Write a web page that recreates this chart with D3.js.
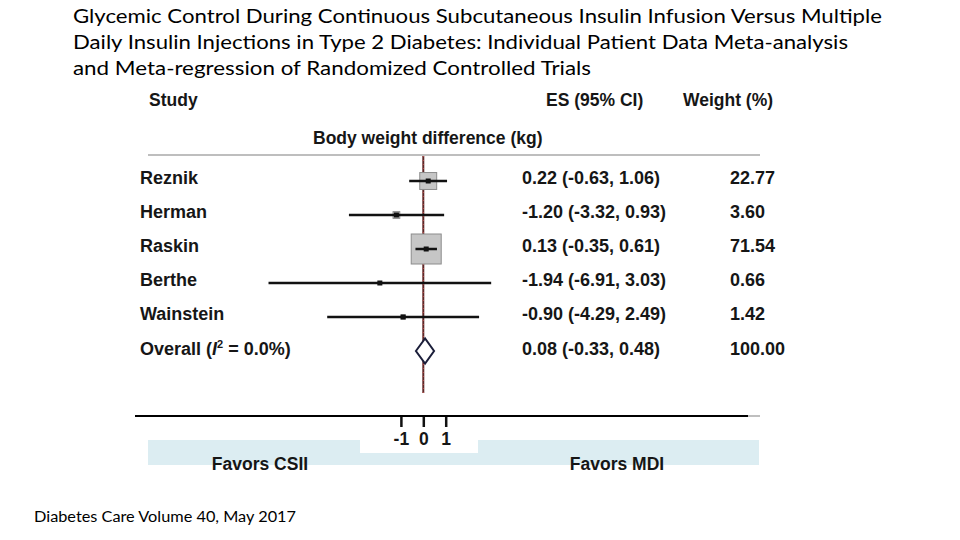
<!DOCTYPE html>
<html>
<head>
<meta charset="utf-8">
<script src="https://cdn.jsdelivr.net/npm/d3@7"></script>
<style>
  body { margin: 0; background: #fff; }
  svg { display: block; }
  .lab { font-family: "Liberation Sans", Arial, sans-serif; font-weight: bold; fill: #161616; }
  .ttl { font-family: Lato, "Open Sans", sans-serif; fill: #000; }
</style>
</head>
<body>
<svg id="chart" width="960" height="540"></svg>
<script>
// forest plot data
const titleLines = [
    "Glycemic Control During  Continuous Subcutaneous Insulin  Infusion Versus Multiple",
    "Daily Insulin Injections in Type 2  Diabetes: Individual Patient Data  Meta-analysis",
    "and Meta-regression  of Randomized Controlled Trials"
];
const studies = ["Reznik", "Herman", "Raskin", "Berthe", "Wainstein"];
const estimates = [0.22, -1.20, 0.13, -1.94, -0.90];
const lowerCI = [-0.63, -3.32, -0.35, -6.91, -4.29];
const upperCI = [1.06, 0.93, 0.61, 3.03, 2.49];
const weights = ["22.77", "3.60", "71.54", "0.66", "1.42"];
const overall = { label: "Overall", es: 0.08, lo: -0.33, hi: 0.48, weight: "100.00" };
const xTicks = [-1, 0, 1];
const footer = "Diabetes Care Volume 40, May 2017";

// plain hyphen minus like the original figure
const locale = d3.formatLocale({ decimal: ".", thousands: ",", grouping: [3], currency: ["", ""], minus: "-" });
const fmt = locale.format(".2f");
const ciText = (e, l, h) => `${fmt(e)} (${fmt(l)}, ${fmt(h)})`;

const svg = d3.select("#chart");

// title
const titleLen = [809, 775, 518];
svg.append("g").selectAll("text")
    .data(titleLines)
    .join("text")
    .attr("class", "ttl")
    .attr("x", 73)
    .attr("y", (d, i) => 23 + i * 26)
    .attr("font-size", 19.5)
    .attr("textLength", (d, i) => titleLen[i])
    .attr("lengthAdjust", "spacingAndGlyphs")
    .text(d => d);

const x = d3.scaleLinear()
    .domain([-7, 4])
    .range([423.3 - 7 * 22.4, 423.3 + 4 * 22.4]);

const rows = [...studies, overall.label];
const y = d3.scalePoint()
    .domain(rows)
    .range([181, 351]);

const boxSize = d3.scaleSqrt()
    .domain([0, 71.54])
    .range([0, 30]);

// header
svg.append("text").attr("class", "lab").attr("x", 149).attr("y", 106)
    .attr("font-size", 17.5).text("Study");
svg.append("text").attr("class", "lab").attr("x", 546).attr("y", 106)
    .attr("font-size", 17.5).text("ES (95% CI)");
svg.append("text").attr("class", "lab").attr("x", 683).attr("y", 106)
    .attr("font-size", 17.5).text("Weight (%)");
svg.append("text").attr("class", "lab").attr("x", 313).attr("y", 144)
    .attr("font-size", 17.5).text("Body weight difference (kg)");

svg.append("line")
    .attr("x1", 148).attr("x2", 760)
    .attr("y1", 155).attr("y2", 155)
    .attr("stroke", "#a8a8a8")
    .attr("stroke-width", 1.5);

// favors band
svg.append("rect")
    .attr("x", 148).attr("y", 440)
    .attr("width", 611).attr("height", 25)
    .attr("fill", "#dcedf2");
svg.append("rect")
    .attr("x", 360).attr("y", 428)
    .attr("width", 118).attr("height", 25)
    .attr("fill", "#fff");
svg.append("text").attr("class", "lab").attr("x", 260).attr("y", 470)
    .attr("text-anchor", "middle").attr("font-size", 17.5).text("Favors CSII");
svg.append("text").attr("class", "lab").attr("x", 617).attr("y", 470)
    .attr("text-anchor", "middle").attr("font-size", 17.5).text("Favors MDI");

// axis
svg.append("line")
    .attr("x1", 135).attr("x2", 748)
    .attr("y1", 416).attr("y2", 416)
    .attr("stroke", "#000")
    .attr("stroke-width", 2);
svg.append("line")
    .attr("x1", 748).attr("x2", 760)
    .attr("y1", 416).attr("y2", 416)
    .attr("stroke", "#aaa")
    .attr("stroke-width", 1.5);

const xAxis = g => g
    .attr("transform", "translate(0,417)")
    .call(d3.axisBottom(x).tickValues(xTicks).tickSize(10).tickPadding(6).tickFormat(locale.format("d")))
    .call(g => g.select(".domain").remove())
    .call(g => g.selectAll(".tick line").attr("stroke", "#111").attr("stroke-width", 2.5))
    .call(g => g.selectAll(".tick text")
        .attr("class", "lab")
        .attr("font-size", 17.5)
        .attr("fill", "#161616"));
svg.append("g").call(xAxis);

// null line
svg.append("line")
    .attr("x1", x(0)).attr("x2", x(0))
    .attr("y1", 156).attr("y2", 393)
    .attr("stroke", "#5e2828")
    .attr("stroke-width", 2);
svg.append("line")
    .attr("x1", x(0)).attr("x2", x(0))
    .attr("y1", 156).attr("y2", 393)
    .attr("stroke", "#c0504d")
    .attr("stroke-width", 1)
    .attr("stroke-dasharray", "1,3");

// study rows
const data = studies.map((s, i) => ({
    study: s, es: estimates[i], lo: lowerCI[i], hi: upperCI[i], weight: weights[i]
}));

const row = svg.append("g").selectAll("g")
    .data(data)
    .join("g");

row.append("rect")
    .attr("x", d => x(d.es) - boxSize(+d.weight) / 2)
    .attr("y", d => y(d.study) - boxSize(+d.weight) / 2)
    .attr("width", d => boxSize(+d.weight))
    .attr("height", d => boxSize(+d.weight))
    .attr("fill", "#c6c6c6")
    .attr("stroke", "#8c8c8c")
    .attr("stroke-width", 1);

row.append("line")
    .attr("x1", d => x(d.lo)).attr("x2", d => x(d.hi))
    .attr("y1", d => y(d.study)).attr("y2", d => y(d.study))
    .attr("stroke", "#111")
    .attr("stroke-width", 2.5);

row.append("rect")
    .attr("x", d => x(d.es) - 2.5)
    .attr("y", d => y(d.study) - 2.5)
    .attr("width", 5).attr("height", 5)
    .attr("fill", "#111");

// overall diamond
const yo = y(overall.label);
svg.append("path")
    .attr("d", d3.line()([
        [x(overall.lo), yo], [x(overall.es), yo - 12.5],
        [x(overall.hi), yo], [x(overall.es), yo + 12.5]
    ]) + "Z")
    .attr("fill", "#fff")
    .attr("stroke", "#1b1e3a")
    .attr("stroke-width", 2);

// row labels and numbers
const labels = svg.append("g").attr("class", "lab").attr("font-size", 18);

labels.selectAll(".study")
    .data(data)
    .join("text")
    .attr("x", 140)
    .attr("y", d => y(d.study) + 2.5)
    .text(d => d.study);

labels.selectAll(".es")
    .data(data)
    .join("text")
    .attr("x", 522)
    .attr("y", d => y(d.study) + 2.5)
    .text(d => ciText(d.es, d.lo, d.hi));

labels.selectAll(".wt")
    .data(data)
    .join("text")
    .attr("x", 730)
    .attr("y", d => y(d.study) + 2.5)
    .text(d => d.weight);

const ov = labels.append("text")
    .attr("x", 140)
    .attr("y", yo + 4);
ov.append("tspan").text(overall.label + " (");
ov.append("tspan").attr("font-style", "italic").text("I");
ov.append("tspan").attr("font-size", 11).attr("dy", -7).text("2");
ov.append("tspan").attr("dy", 7).text(" = 0.0%)");

labels.append("text")
    .attr("x", 522).attr("y", yo + 4)
    .text(ciText(overall.es, overall.lo, overall.hi));
labels.append("text")
    .attr("x", 730).attr("y", yo + 4)
    .text(overall.weight);

// source
svg.append("text")
    .attr("class", "ttl")
    .attr("x", 34).attr("y", 522)
    .attr("font-size", 14.5)
    .attr("textLength", 262)
    .attr("lengthAdjust", "spacingAndGlyphs")
    .text(footer);
</script>
</body>
</html>
